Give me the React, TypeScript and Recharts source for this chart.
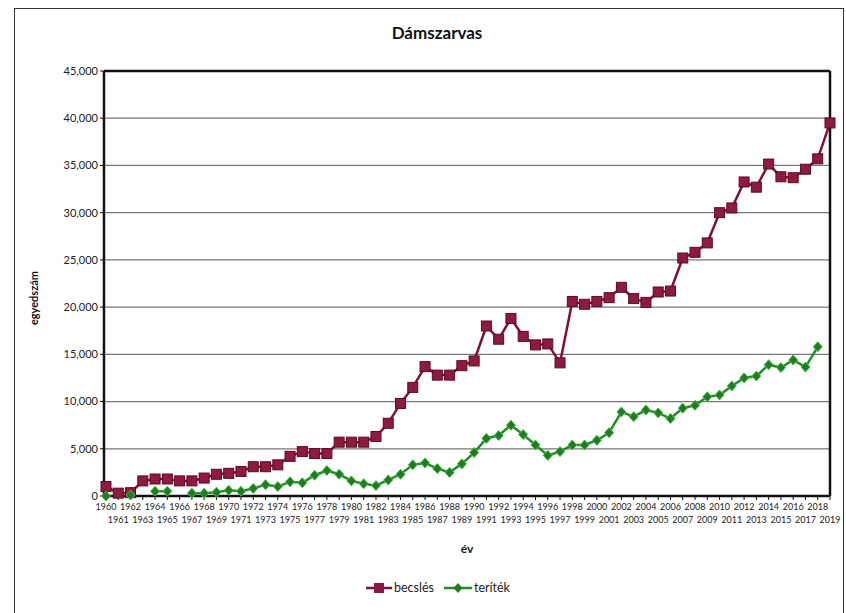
import { LineChart, Line, XAxis, YAxis, CartesianGrid, Legend, ReferenceLine } from "recharts";

const years = [
  "1960", "1961", "1962", "1963", "1964", "1965", "1966", "1967", "1968", "1969",
  "1970", "1971", "1972", "1973", "1974", "1975", "1976", "1977", "1978", "1979",
  "1980", "1981", "1982", "1983", "1984", "1985", "1986", "1987", "1988", "1989",
  "1990", "1991", "1992", "1993", "1994", "1995", "1996", "1997", "1998", "1999",
  "2000", "2001", "2002", "2003", "2004", "2005", "2006", "2007", "2008", "2009",
  "2010", "2011", "2012", "2013", "2014", "2015", "2016", "2017", "2018", "2019",
];

const becsles = [
  1000, 300, 350, 1600, 1800, 1800, 1600, 1600, 1900, 2300,
  2400, 2600, 3100, 3100, 3300, 4200, 4700, 4500, 4500, 5700,
  5700, 5700, 6300, 7700, 9800, 11500, 13700, 12800, 12800, 13800,
  14300, 18000, 16600, 18800, 16900, 16000, 16100, 14100, 20600, 20300,
  20600, 21000, 22100, 20900, 20500, 21600, 21700, 25200, 25800, 26800,
  30000, 30500, 33250, 32700, 35150, 33800, 33700, 34600, 35700, 39500,
];

const teritek: (number | null)[] = [
  0, null, 100, null, 500, 500, null, 300, 300, 400,
  600, 500, 800, 1200, 1000, 1500, 1400, 2200, 2700, 2300,
  1600, 1300, 1100, 1700, 2300, 3300, 3500, 2900, 2500, 3400,
  4600, 6100, 6400, 7500, 6500, 5400, 4300, 4700, 5400, 5400,
  5900, 6700, 8900, 8400, 9100, 8800, 8200, 9300, 9600, 10500,
  10700, 11650, 12500, 12700, 13900, 13600, 14400, 13650, 15800, null,
];

const yTicks = [0, 5000, 10000, 15000, 20000, 25000, 30000, 35000, 40000, 45000];

const RED = "#7d1233";
const GREEN = "#1f8f24";
const FONT = "Lato, 'Open Sans', sans-serif";

const data = years.map((year, i) => ({ year, becsles: becsles[i], teritek: teritek[i] }));

function SquareDot(props: any) {
  const { cx, cy, value } = props;
  if (value == null || cx == null) return null;
  return <rect x={cx - 5} y={cy - 5} width={10} height={10} fill="#8e1a40" stroke="#5c0a22" strokeWidth={1} />;
}

function DiamondDot(props: any) {
  const { cx, cy, value } = props;
  if (value == null || cx == null) return null;
  return (
    <path
      d={`M${cx},${cy - 5} L${cx + 4.5},${cy} L${cx},${cy + 5} L${cx - 4.5},${cy} Z`}
      fill="#237a26"
      stroke="#3fbf3f"
      strokeWidth={1}
    />
  );
}

function YearTick(props: any) {
  const { x, y, payload, index } = props;
  const lower = index % 2 === 1;
  return (
    <text x={x} y={y} dy={lower ? 21 : 8} textAnchor="middle" fontSize={9} fill="#222" fontFamily={FONT}>
      {payload.value}
    </text>
  );
}

function LegendContent() {
  return (
    <div style={{ display: "flex", justifyContent: "center", alignItems: "center", gap: 10, fontFamily: FONT, fontSize: 12.5, color: "#222", paddingLeft: 12 }}>
      <span style={{ display: "flex", alignItems: "center", gap: 2 }}>
        <svg width={26} height={12}>
          <line x1={0} y1={6} x2={26} y2={6} stroke={RED} strokeWidth={2.5} />
          <rect x={8} y={1} width={10} height={10} fill="#8e1a40" />
        </svg>
        becslés
      </span>
      <span style={{ display: "flex", alignItems: "center", gap: 2 }}>
        <svg width={28} height={12}>
          <line x1={0} y1={6} x2={28} y2={6} stroke={GREEN} strokeWidth={2.5} />
          <path d="M14,1 L18.5,6 L14,11 L9.5,6 Z" fill="#237a26" />
        </svg>
        teríték
      </span>
    </div>
  );
}

export default function App() {
  return (
    <div style={{ position: "absolute", left: 0, top: 0, width: 846, height: 613, background: "#fff", fontFamily: FONT }}>
      <div style={{ position: "absolute", left: 14, top: 8, width: 828, height: 620, border: "1px solid #333" }} />
      <div style={{ position: "absolute", left: 0, width: 874, top: 22, textAlign: "center", fontWeight: 700, fontSize: 17, color: "#111" }}>
        Dámszarvas
      </div>
      <div
        style={{
          position: "absolute",
          left: 33,
          top: 298,
          transform: "translate(-50%, -50%) rotate(-90deg)",
          fontWeight: 700,
          fontSize: 11,
          color: "#111",
          whiteSpace: "nowrap",
        }}
      >
        egyedszám
      </div>
      <LineChart width={846} height={613} data={data} margin={{ top: 71, right: 16, left: 34, bottom: 13 }} style={{ position: "absolute", left: 0, top: 0 }}>
        <CartesianGrid horizontal vertical={false} stroke="#777" strokeWidth={1.2} />
        <XAxis
          dataKey="year"
          interval={0}
          tick={<YearTick />}
          tickSize={4}
          tickLine={{ stroke: "#111" }}
          axisLine={{ stroke: "#111", strokeWidth: 2.5 }}
          height={84}
          padding={{ left: 2, right: 0 }}
          label={{ value: "év", position: "insideTop", offset: 48, fontSize: 12, fontWeight: 700, fill: "#111", fontFamily: FONT }}
        />
        <YAxis
          domain={[0, 45000]}
          ticks={yTicks}
          interval={0}
          width={70}
          tickSize={4}
          tickMargin={2}
          tickFormatter={(v: number) => v.toLocaleString("en-US")}
          tick={{ fontSize: 11, fill: "#222", fontFamily: FONT }}
          tickLine={{ stroke: "#111" }}
          axisLine={{ stroke: "#111", strokeWidth: 2.5 }}
        />
        <ReferenceLine y={45000} stroke="#111" strokeWidth={2.5} />
        <ReferenceLine x="2019" stroke="#111" strokeWidth={2.5} />
        <Legend verticalAlign="bottom" height={20} content={<LegendContent />} />
        <Line
          type="linear"
          dataKey="becsles"
          name="becslés"
          stroke={RED}
          strokeWidth={2.5}
          dot={<SquareDot />}
          activeDot={false}
          isAnimationActive={false}
        />
        <Line
          type="linear"
          dataKey="teritek"
          name="teríték"
          stroke={GREEN}
          strokeWidth={2.5}
          dot={<DiamondDot />}
          activeDot={false}
          connectNulls={false}
          isAnimationActive={false}
        />
      </LineChart>
    </div>
  );
}
